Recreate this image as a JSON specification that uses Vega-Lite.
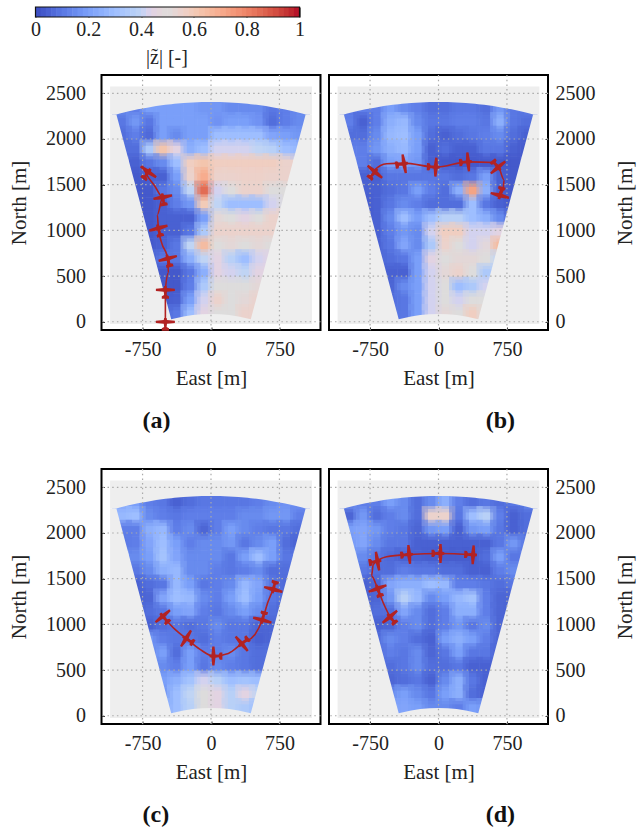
{"$schema":"https://vega.github.io/schema/vega-lite/v6.json","padding":{"left":7.5,"top":6,"right":0,"bottom":0},"background":"white",
"config":{"font":"Liberation Serif","view":{"stroke":"#000","strokeWidth":2},"axisX":{"labelPadding":12,"titlePadding":8},"axisY":{"labelPadding":19,"titlePadding":16},"axis":{"grid":false,"labelFont":"Liberation Serif","titleFont":"Liberation Serif","labelFontSize":20,"titleFontSize":21,"labelColor":"#222","titleColor":"#222","titleFontWeight":"normal","domain":false,"tickColor":"#333","tickSize":-3},"title":{"font":"Liberation Serif","fontSize":24,"fontWeight":"bold","color":"#111"}},
"datasets":{
"grid":[{"e":-750},{"e":0},{"e":750}],
"gridn":[{"n":0},{"n":500},{"n":1000},{"n":1500},{"n":2000},{"n":2500}],
"mask":[{"e":-1106,"u":2268,"l":2268},{"e":-1037,"u":2268,"l":2268},{"e":-1000,"u":2278,"l":2132},{"e":-900,"u":2303,"l":1759},{"e":-800,"u":2324,"l":1386},{"e":-700,"u":2343,"l":1012},{"e":-600,"u":2360,"l":639},{"e":-500,"u":2374,"l":266},{"e":-436,"u":2381,"l":27},{"e":-400,"u":2385,"l":37},{"e":-300,"u":2394,"l":58},{"e":-200,"u":2400,"l":73},{"e":-100,"u":2404,"l":82},{"e":0,"u":2405,"l":85},{"e":100,"u":2404,"l":82},{"e":200,"u":2400,"l":73},{"e":300,"u":2394,"l":58},{"e":400,"u":2385,"l":37},{"e":436,"u":2381,"l":27},{"e":500,"u":2374,"l":266},{"e":600,"u":2360,"l":639},{"e":700,"u":2343,"l":1012},{"e":800,"u":2324,"l":1386},{"e":900,"u":2303,"l":1759},{"e":1000,"u":2278,"l":2132},{"e":1037,"u":2268,"l":2268},{"e":1106,"u":2268,"l":2268}],
"pathA":[{"i":0,"e":-500,"n":0},{"i":1,"e":-500,"n":204},{"i":2,"e":-500,"n":350},{"i":3,"e":-467,"n":532},{"i":4,"e":-474,"n":693},{"i":5,"e":-540,"n":861},{"i":6,"e":-577,"n":1025},{"i":7,"e":-588,"n":1171},{"i":8,"e":-529,"n":1364},{"i":9,"e":-613,"n":1481},{"i":10,"e":-704,"n":1608},{"i":11,"e":-752,"n":1707}],
"planeA":[{"e":-500,"n":0,"h":0},{"e":-500,"n":350,"h":0},{"e":-474,"n":693,"h":-15},{"e":-577,"n":1025,"h":-15},{"e":-529,"n":1364,"h":-10},{"e":-686,"n":1641,"h":35}],
"pathB":[{"i":0,"e":-697,"n":1641},{"i":1,"e":-697,"n":1663},{"i":2,"e":-569,"n":1729},{"i":3,"e":-376,"n":1736},{"i":4,"e":-29,"n":1692},{"i":5,"e":325,"n":1750},{"i":6,"e":599,"n":1743},{"i":7,"e":661,"n":1689},{"i":8,"e":719,"n":1554},{"i":9,"e":708,"n":1444},{"i":10,"e":672,"n":1382}],
"planeB":[{"e":-697,"n":1641,"h":40},{"e":-376,"n":1729,"h":80},{"e":-29,"n":1692,"h":93},{"e":325,"n":1750,"h":85},{"e":653,"n":1689,"h":140},{"e":672,"n":1382,"h":195}],
"pathC":[{"i":0,"e":682,"n":1382},{"i":1,"e":628,"n":1255},{"i":2,"e":562,"n":1047},{"i":3,"e":482,"n":890},{"i":4,"e":336,"n":788},{"i":5,"e":190,"n":682},{"i":6,"e":26,"n":653},{"i":7,"e":-120,"n":726},{"i":8,"e":-274,"n":846},{"i":9,"e":-394,"n":945},{"i":10,"e":-529,"n":1090}],
"planeC":[{"e":682,"n":1382,"h":195},{"e":562,"n":1047,"h":195},{"e":336,"n":788,"h":230},{"e":26,"n":653,"h":-90},{"e":-274,"n":846,"h":-58},{"e":-529,"n":1090,"h":-40}],
"pathD":[{"i":0,"e":-533,"n":1083},{"i":1,"e":-606,"n":1236},{"i":2,"e":-668,"n":1393},{"i":3,"e":-734,"n":1528},{"i":4,"e":-715,"n":1656},{"i":5,"e":-569,"n":1739},{"i":6,"e":-321,"n":1765},{"i":7,"e":22,"n":1776},{"i":8,"e":380,"n":1761}],
"planeD":[{"e":-533,"n":1083,"h":-40},{"e":-668,"n":1393,"h":-20},{"e":-668,"n":1692,"h":80},{"e":-321,"n":1765,"h":85},{"e":22,"n":1776,"h":90},{"e":380,"n":1761,"h":93}],
"bar":[{"z":0.01},{"z":0.03},{"z":0.05},{"z":0.07},{"z":0.09},{"z":0.11},{"z":0.13},{"z":0.15},{"z":0.17},{"z":0.19},{"z":0.21},{"z":0.23},{"z":0.25},{"z":0.27},{"z":0.29},{"z":0.31},{"z":0.33},{"z":0.35},{"z":0.37},{"z":0.39},{"z":0.41},{"z":0.43},{"z":0.45},{"z":0.47},{"z":0.49},{"z":0.51},{"z":0.53},{"z":0.55},{"z":0.57},{"z":0.59},{"z":0.61},{"z":0.63},{"z":0.65},{"z":0.67},{"z":0.69},{"z":0.71},{"z":0.73},{"z":0.75},{"z":0.77},{"z":0.79},{"z":0.81},{"z":0.83},{"z":0.85},{"z":0.87},{"z":0.89},{"z":0.91},{"z":0.93},{"z":0.95},{"z":0.97},{"z":0.99}],
"a":[
{"e":-975,"n":2335,"z":0.15},{"e":-825,"n":2335,"z":0.12},{"e":-675,"n":2335,"z":0.2},{"e":-525,"n":2335,"z":0.2},{"e":-375,"n":2335,"z":0.2},{"e":-225,"n":2335,"z":0.2},{"e":-75,"n":2335,"z":0.18},{"e":75,"n":2335,"z":0.18},{"e":225,"n":2335,"z":0.15},{"e":375,"n":2335,"z":0.15},{"e":525,"n":2335,"z":0.15},{"e":675,"n":2335,"z":0.1},{"e":825,"n":2335,"z":0.12},{"e":975,"n":2335,"z":0.15},
{"e":-975,"n":2185,"z":0.1},{"e":-825,"n":2185,"z":0.18},{"e":-675,"n":2185,"z":0.1},{"e":-525,"n":2185,"z":0.2},{"e":-375,"n":2185,"z":0.2},{"e":-225,"n":2185,"z":0.2},{"e":-75,"n":2185,"z":0.2},{"e":75,"n":2185,"z":0.17},{"e":225,"n":2185,"z":0.2},{"e":375,"n":2185,"z":0.2},{"e":525,"n":2185,"z":0.17},{"e":675,"n":2185,"z":0.08},{"e":825,"n":2185,"z":0.12},{"e":975,"n":2185,"z":0.15},
{"e":-975,"n":2035,"z":0.08},{"e":-825,"n":2035,"z":0.12},{"e":-675,"n":2035,"z":0.07},{"e":-525,"n":2035,"z":0.2},{"e":-375,"n":2035,"z":0.15},{"e":-225,"n":2035,"z":0.2},{"e":-75,"n":2035,"z":0.2},{"e":75,"n":2035,"z":0.3},{"e":225,"n":2035,"z":0.3},{"e":375,"n":2035,"z":0.3},{"e":525,"n":2035,"z":0.3},{"e":675,"n":2035,"z":0.22},{"e":825,"n":2035,"z":0.2},{"e":975,"n":2035,"z":0.18},
{"e":-975,"n":1885,"z":0.08},{"e":-825,"n":1885,"z":0.08},{"e":-675,"n":1885,"z":0.35},{"e":-525,"n":1885,"z":0.62},{"e":-375,"n":1885,"z":0.45},{"e":-225,"n":1885,"z":0.25},{"e":-75,"n":1885,"z":0.3},{"e":75,"n":1885,"z":0.42},{"e":225,"n":1885,"z":0.42},{"e":375,"n":1885,"z":0.42},{"e":525,"n":1885,"z":0.4},{"e":675,"n":1885,"z":0.38},{"e":825,"n":1885,"z":0.3},{"e":975,"n":1885,"z":0.28},
{"e":-825,"n":1735,"z":0.05},{"e":-675,"n":1735,"z":0.1},{"e":-525,"n":1735,"z":0.15},{"e":-375,"n":1735,"z":0.3},{"e":-225,"n":1735,"z":0.58},{"e":-75,"n":1735,"z":0.62},{"e":75,"n":1735,"z":0.58},{"e":225,"n":1735,"z":0.58},{"e":375,"n":1735,"z":0.58},{"e":525,"n":1735,"z":0.58},{"e":675,"n":1735,"z":0.58},{"e":825,"n":1735,"z":0.55},
{"e":-825,"n":1585,"z":0.03},{"e":-675,"n":1585,"z":0.05},{"e":-525,"n":1585,"z":0.05},{"e":-375,"n":1585,"z":0.2},{"e":-225,"n":1585,"z":0.55},{"e":-75,"n":1585,"z":0.7},{"e":75,"n":1585,"z":0.55},{"e":225,"n":1585,"z":0.55},{"e":375,"n":1585,"z":0.56},{"e":525,"n":1585,"z":0.56},{"e":675,"n":1585,"z":0.55},{"e":825,"n":1585,"z":0.55},
{"e":-825,"n":1435,"z":0.03},{"e":-675,"n":1435,"z":0.03},{"e":-525,"n":1435,"z":0.1},{"e":-375,"n":1435,"z":0.15},{"e":-225,"n":1435,"z":0.4},{"e":-75,"n":1435,"z":0.85},{"e":75,"n":1435,"z":0.42},{"e":225,"n":1435,"z":0.5},{"e":375,"n":1435,"z":0.55},{"e":525,"n":1435,"z":0.55},{"e":675,"n":1435,"z":0.5},{"e":825,"n":1435,"z":0.5},
{"e":-825,"n":1285,"z":0.03},{"e":-675,"n":1285,"z":0.03},{"e":-525,"n":1285,"z":0.05},{"e":-375,"n":1285,"z":0.12},{"e":-225,"n":1285,"z":0.18},{"e":-75,"n":1285,"z":0.6},{"e":75,"n":1285,"z":0.4},{"e":225,"n":1285,"z":0.3},{"e":375,"n":1285,"z":0.3},{"e":525,"n":1285,"z":0.3},{"e":675,"n":1285,"z":0.42},{"e":825,"n":1285,"z":0.5},
{"e":-825,"n":1135,"z":0.03},{"e":-675,"n":1135,"z":0.03},{"e":-525,"n":1135,"z":0.05},{"e":-375,"n":1135,"z":0.05},{"e":-225,"n":1135,"z":0.05},{"e":-75,"n":1135,"z":0.2},{"e":75,"n":1135,"z":0.52},{"e":225,"n":1135,"z":0.5},{"e":375,"n":1135,"z":0.45},{"e":525,"n":1135,"z":0.5},{"e":675,"n":1135,"z":0.55},{"e":825,"n":1135,"z":0.55},
{"e":-675,"n":985,"z":0.03},{"e":-525,"n":985,"z":0.05},{"e":-375,"n":985,"z":0.05},{"e":-225,"n":985,"z":0.1},{"e":-75,"n":985,"z":0.35},{"e":75,"n":985,"z":0.55},{"e":225,"n":985,"z":0.55},{"e":375,"n":985,"z":0.55},{"e":525,"n":985,"z":0.55},{"e":675,"n":985,"z":0.55},
{"e":-675,"n":835,"z":0.03},{"e":-525,"n":835,"z":0.05},{"e":-375,"n":835,"z":0.1},{"e":-225,"n":835,"z":0.4},{"e":-75,"n":835,"z":0.65},{"e":75,"n":835,"z":0.5},{"e":225,"n":835,"z":0.52},{"e":375,"n":835,"z":0.5},{"e":525,"n":835,"z":0.52},{"e":675,"n":835,"z":0.5},
{"e":-675,"n":685,"z":0.03},{"e":-525,"n":685,"z":0.1},{"e":-375,"n":685,"z":0.1},{"e":-225,"n":685,"z":0.25},{"e":-75,"n":685,"z":0.4},{"e":75,"n":685,"z":0.45},{"e":225,"n":685,"z":0.38},{"e":375,"n":685,"z":0.3},{"e":525,"n":685,"z":0.42},{"e":675,"n":685,"z":0.45},
{"e":-525,"n":535,"z":0.03},{"e":-375,"n":535,"z":0.03},{"e":-225,"n":535,"z":0.1},{"e":-75,"n":535,"z":0.25},{"e":75,"n":535,"z":0.45},{"e":225,"n":535,"z":0.42},{"e":375,"n":535,"z":0.4},{"e":525,"n":535,"z":0.45},
{"e":-525,"n":385,"z":0.03},{"e":-375,"n":385,"z":0.03},{"e":-225,"n":385,"z":0.12},{"e":-75,"n":385,"z":0.35},{"e":75,"n":385,"z":0.5},{"e":225,"n":385,"z":0.5},{"e":375,"n":385,"z":0.5},{"e":525,"n":385,"z":0.52},
{"e":-525,"n":235,"z":0.03},{"e":-375,"n":235,"z":0.05},{"e":-225,"n":235,"z":0.2},{"e":-75,"n":235,"z":0.42},{"e":75,"n":235,"z":0.55},{"e":225,"n":235,"z":0.5},{"e":375,"n":235,"z":0.52},{"e":525,"n":235,"z":0.55},
{"e":-525,"n":85,"z":0.05},{"e":-375,"n":85,"z":0.1},{"e":-225,"n":85,"z":0.3},{"e":-75,"n":85,"z":0.45},{"e":75,"n":85,"z":0.5},{"e":225,"n":85,"z":0.5},{"e":375,"n":85,"z":0.55},{"e":525,"n":85,"z":0.55}],
"b":[
{"e":-975,"n":2335,"z":0.1},{"e":-825,"n":2335,"z":0.12},{"e":-675,"n":2335,"z":0.12},{"e":-525,"n":2335,"z":0.2},{"e":-375,"n":2335,"z":0.15},{"e":-225,"n":2335,"z":0.12},{"e":-75,"n":2335,"z":0.08},{"e":75,"n":2335,"z":0.08},{"e":225,"n":2335,"z":0.1},{"e":375,"n":2335,"z":0.1},{"e":525,"n":2335,"z":0.08},{"e":675,"n":2335,"z":0.18},{"e":825,"n":2335,"z":0.1},{"e":975,"n":2335,"z":0.12},
{"e":-975,"n":2185,"z":0.12},{"e":-825,"n":2185,"z":0.05},{"e":-675,"n":2185,"z":0.12},{"e":-525,"n":2185,"z":0.25},{"e":-375,"n":2185,"z":0.28},{"e":-225,"n":2185,"z":0.15},{"e":-75,"n":2185,"z":0.1},{"e":75,"n":2185,"z":0.1},{"e":225,"n":2185,"z":0.12},{"e":375,"n":2185,"z":0.12},{"e":525,"n":2185,"z":0.1},{"e":675,"n":2185,"z":0.25},{"e":825,"n":2185,"z":0.1},{"e":975,"n":2185,"z":0.08},
{"e":-975,"n":2035,"z":0.08},{"e":-825,"n":2035,"z":0.08},{"e":-675,"n":2035,"z":0.15},{"e":-525,"n":2035,"z":0.28},{"e":-375,"n":2035,"z":0.3},{"e":-225,"n":2035,"z":0.2},{"e":-75,"n":2035,"z":0.08},{"e":75,"n":2035,"z":0.05},{"e":225,"n":2035,"z":0.08},{"e":375,"n":2035,"z":0.1},{"e":525,"n":2035,"z":0.12},{"e":675,"n":2035,"z":0.15},{"e":825,"n":2035,"z":0.08},{"e":975,"n":2035,"z":0.05},
{"e":-975,"n":1885,"z":0.12},{"e":-825,"n":1885,"z":0.12},{"e":-675,"n":1885,"z":0.18},{"e":-525,"n":1885,"z":0.25},{"e":-375,"n":1885,"z":0.28},{"e":-225,"n":1885,"z":0.2},{"e":-75,"n":1885,"z":0.05},{"e":75,"n":1885,"z":0.08},{"e":225,"n":1885,"z":0.05},{"e":375,"n":1885,"z":0.05},{"e":525,"n":1885,"z":0.1},{"e":675,"n":1885,"z":0.1},{"e":825,"n":1885,"z":0.05},{"e":975,"n":1885,"z":0.03},
{"e":-825,"n":1735,"z":0.12},{"e":-675,"n":1735,"z":0.08},{"e":-525,"n":1735,"z":0.2},{"e":-375,"n":1735,"z":0.22},{"e":-225,"n":1735,"z":0.18},{"e":-75,"n":1735,"z":0.05},{"e":75,"n":1735,"z":0.03},{"e":225,"n":1735,"z":0.03},{"e":375,"n":1735,"z":0.03},{"e":525,"n":1735,"z":0.03},{"e":675,"n":1735,"z":0.03},{"e":825,"n":1735,"z":0.03},
{"e":-825,"n":1585,"z":0.05},{"e":-675,"n":1585,"z":0.05},{"e":-525,"n":1585,"z":0.1},{"e":-375,"n":1585,"z":0.1},{"e":-225,"n":1585,"z":0.1},{"e":-75,"n":1585,"z":0.1},{"e":75,"n":1585,"z":0.1},{"e":225,"n":1585,"z":0.08},{"e":375,"n":1585,"z":0.1},{"e":525,"n":1585,"z":0.2},{"e":675,"n":1585,"z":0.05},{"e":825,"n":1585,"z":0.03},
{"e":-825,"n":1435,"z":0.05},{"e":-675,"n":1435,"z":0.05},{"e":-525,"n":1435,"z":0.08},{"e":-375,"n":1435,"z":0.1},{"e":-225,"n":1435,"z":0.2},{"e":-75,"n":1435,"z":0.12},{"e":75,"n":1435,"z":0.08},{"e":225,"n":1435,"z":0.25},{"e":375,"n":1435,"z":0.72},{"e":525,"n":1435,"z":0.25},{"e":675,"n":1435,"z":0.05},{"e":825,"n":1435,"z":0.03},
{"e":-825,"n":1285,"z":0.03},{"e":-675,"n":1285,"z":0.05},{"e":-525,"n":1285,"z":0.1},{"e":-375,"n":1285,"z":0.15},{"e":-225,"n":1285,"z":0.12},{"e":-75,"n":1285,"z":0.08},{"e":75,"n":1285,"z":0.08},{"e":225,"n":1285,"z":0.08},{"e":375,"n":1285,"z":0.3},{"e":525,"n":1285,"z":0.1},{"e":675,"n":1285,"z":0.05},{"e":825,"n":1285,"z":0.03},
{"e":-825,"n":1135,"z":0.03},{"e":-675,"n":1135,"z":0.05},{"e":-525,"n":1135,"z":0.15},{"e":-375,"n":1135,"z":0.3},{"e":-225,"n":1135,"z":0.2},{"e":-75,"n":1135,"z":0.3},{"e":75,"n":1135,"z":0.38},{"e":225,"n":1135,"z":0.38},{"e":375,"n":1135,"z":0.3},{"e":525,"n":1135,"z":0.25},{"e":675,"n":1135,"z":0.15},{"e":825,"n":1135,"z":0.05},
{"e":-675,"n":985,"z":0.05},{"e":-525,"n":985,"z":0.12},{"e":-375,"n":985,"z":0.18},{"e":-225,"n":985,"z":0.15},{"e":-75,"n":985,"z":0.42},{"e":75,"n":985,"z":0.58},{"e":225,"n":985,"z":0.58},{"e":375,"n":985,"z":0.42},{"e":525,"n":985,"z":0.42},{"e":675,"n":985,"z":0.45},
{"e":-675,"n":835,"z":0.05},{"e":-525,"n":835,"z":0.1},{"e":-375,"n":835,"z":0.22},{"e":-225,"n":835,"z":0.15},{"e":-75,"n":835,"z":0.35},{"e":75,"n":835,"z":0.55},{"e":225,"n":835,"z":0.5},{"e":375,"n":835,"z":0.42},{"e":525,"n":835,"z":0.48},{"e":675,"n":835,"z":0.65},
{"e":-675,"n":685,"z":0.05},{"e":-525,"n":685,"z":0.08},{"e":-375,"n":685,"z":0.1},{"e":-225,"n":685,"z":0.2},{"e":-75,"n":685,"z":0.45},{"e":75,"n":685,"z":0.5},{"e":225,"n":685,"z":0.52},{"e":375,"n":685,"z":0.52},{"e":525,"n":685,"z":0.5},{"e":675,"n":685,"z":0.4},
{"e":-525,"n":535,"z":0.05},{"e":-375,"n":535,"z":0.05},{"e":-225,"n":535,"z":0.2},{"e":-75,"n":535,"z":0.42},{"e":75,"n":535,"z":0.52},{"e":225,"n":535,"z":0.55},{"e":375,"n":535,"z":0.5},{"e":525,"n":535,"z":0.35},
{"e":-525,"n":385,"z":0.06},{"e":-375,"n":385,"z":0.15},{"e":-225,"n":385,"z":0.2},{"e":-75,"n":385,"z":0.42},{"e":75,"n":385,"z":0.5},{"e":225,"n":385,"z":0.3},{"e":375,"n":385,"z":0.35},{"e":525,"n":385,"z":0.42},
{"e":-525,"n":235,"z":0.08},{"e":-375,"n":235,"z":0.1},{"e":-225,"n":235,"z":0.2},{"e":-75,"n":235,"z":0.42},{"e":75,"n":235,"z":0.5},{"e":225,"n":235,"z":0.42},{"e":375,"n":235,"z":0.5},{"e":525,"n":235,"z":0.5},
{"e":-525,"n":85,"z":0.1},{"e":-375,"n":85,"z":0.1},{"e":-225,"n":85,"z":0.2},{"e":-75,"n":85,"z":0.42},{"e":75,"n":85,"z":0.52},{"e":225,"n":85,"z":0.5},{"e":375,"n":85,"z":0.58},{"e":525,"n":85,"z":0.5}],
"c":[
{"e":-975,"n":2335,"z":0.22},{"e":-825,"n":2335,"z":0.2},{"e":-675,"n":2335,"z":0.12},{"e":-525,"n":2335,"z":0.1},{"e":-375,"n":2335,"z":0.05},{"e":-225,"n":2335,"z":0.08},{"e":-75,"n":2335,"z":0.1},{"e":75,"n":2335,"z":0.1},{"e":225,"n":2335,"z":0.1},{"e":375,"n":2335,"z":0.1},{"e":525,"n":2335,"z":0.12},{"e":675,"n":2335,"z":0.15},{"e":825,"n":2335,"z":0.17},{"e":975,"n":2335,"z":0.17},
{"e":-975,"n":2185,"z":0.28},{"e":-825,"n":2185,"z":0.3},{"e":-675,"n":2185,"z":0.15},{"e":-525,"n":2185,"z":0.12},{"e":-375,"n":2185,"z":0.1},{"e":-225,"n":2185,"z":0.12},{"e":-75,"n":2185,"z":0.12},{"e":75,"n":2185,"z":0.12},{"e":225,"n":2185,"z":0.12},{"e":375,"n":2185,"z":0.15},{"e":525,"n":2185,"z":0.15},{"e":675,"n":2185,"z":0.18},{"e":825,"n":2185,"z":0.18},{"e":975,"n":2185,"z":0.12},
{"e":-975,"n":2035,"z":0.12},{"e":-825,"n":2035,"z":0.12},{"e":-675,"n":2035,"z":0.25},{"e":-525,"n":2035,"z":0.28},{"e":-375,"n":2035,"z":0.12},{"e":-225,"n":2035,"z":0.15},{"e":-75,"n":2035,"z":0.06},{"e":75,"n":2035,"z":0.12},{"e":225,"n":2035,"z":0.2},{"e":375,"n":2035,"z":0.15},{"e":525,"n":2035,"z":0.12},{"e":675,"n":2035,"z":0.1},{"e":825,"n":2035,"z":0.1},{"e":975,"n":2035,"z":0.08},
{"e":-975,"n":1885,"z":0.1},{"e":-825,"n":1885,"z":0.12},{"e":-675,"n":1885,"z":0.22},{"e":-525,"n":1885,"z":0.3},{"e":-375,"n":1885,"z":0.2},{"e":-225,"n":1885,"z":0.12},{"e":-75,"n":1885,"z":0.15},{"e":75,"n":1885,"z":0.15},{"e":225,"n":1885,"z":0.18},{"e":375,"n":1885,"z":0.1},{"e":525,"n":1885,"z":0.15},{"e":675,"n":1885,"z":0.2},{"e":825,"n":1885,"z":0.08},{"e":975,"n":1885,"z":0.05},
{"e":-825,"n":1735,"z":0.15},{"e":-675,"n":1735,"z":0.2},{"e":-525,"n":1735,"z":0.32},{"e":-375,"n":1735,"z":0.22},{"e":-225,"n":1735,"z":0.15},{"e":-75,"n":1735,"z":0.15},{"e":75,"n":1735,"z":0.15},{"e":225,"n":1735,"z":0.1},{"e":375,"n":1735,"z":0.2},{"e":525,"n":1735,"z":0.3},{"e":675,"n":1735,"z":0.2},{"e":825,"n":1735,"z":0.1},
{"e":-825,"n":1585,"z":0.1},{"e":-675,"n":1585,"z":0.15},{"e":-525,"n":1585,"z":0.25},{"e":-375,"n":1585,"z":0.28},{"e":-225,"n":1585,"z":0.15},{"e":-75,"n":1585,"z":0.15},{"e":75,"n":1585,"z":0.12},{"e":225,"n":1585,"z":0.1},{"e":375,"n":1585,"z":0.12},{"e":525,"n":1585,"z":0.15},{"e":675,"n":1585,"z":0.08},{"e":825,"n":1585,"z":0.08},
{"e":-825,"n":1435,"z":0.05},{"e":-675,"n":1435,"z":0.08},{"e":-525,"n":1435,"z":0.1},{"e":-375,"n":1435,"z":0.28},{"e":-225,"n":1435,"z":0.2},{"e":-75,"n":1435,"z":0.1},{"e":75,"n":1435,"z":0.12},{"e":225,"n":1435,"z":0.15},{"e":375,"n":1435,"z":0.28},{"e":525,"n":1435,"z":0.22},{"e":675,"n":1435,"z":0.1},{"e":825,"n":1435,"z":0.07},
{"e":-825,"n":1285,"z":0.05},{"e":-675,"n":1285,"z":0.06},{"e":-525,"n":1285,"z":0.22},{"e":-375,"n":1285,"z":0.3},{"e":-225,"n":1285,"z":0.28},{"e":-75,"n":1285,"z":0.15},{"e":75,"n":1285,"z":0.12},{"e":225,"n":1285,"z":0.2},{"e":375,"n":1285,"z":0.3},{"e":525,"n":1285,"z":0.2},{"e":675,"n":1285,"z":0.1},{"e":825,"n":1285,"z":0.08},
{"e":-825,"n":1135,"z":0.05},{"e":-675,"n":1135,"z":0.08},{"e":-525,"n":1135,"z":0.1},{"e":-375,"n":1135,"z":0.2},{"e":-225,"n":1135,"z":0.22},{"e":-75,"n":1135,"z":0.12},{"e":75,"n":1135,"z":0.1},{"e":225,"n":1135,"z":0.15},{"e":375,"n":1135,"z":0.2},{"e":525,"n":1135,"z":0.15},{"e":675,"n":1135,"z":0.08},{"e":825,"n":1135,"z":0.06},
{"e":-675,"n":985,"z":0.05},{"e":-525,"n":985,"z":0.08},{"e":-375,"n":985,"z":0.1},{"e":-225,"n":985,"z":0.08},{"e":-75,"n":985,"z":0.1},{"e":75,"n":985,"z":0.15},{"e":225,"n":985,"z":0.1},{"e":375,"n":985,"z":0.1},{"e":525,"n":985,"z":0.06},{"e":675,"n":985,"z":0.06},
{"e":-675,"n":835,"z":0.18},{"e":-525,"n":835,"z":0.12},{"e":-375,"n":835,"z":0.1},{"e":-225,"n":835,"z":0.1},{"e":-75,"n":835,"z":0.08},{"e":75,"n":835,"z":0.12},{"e":225,"n":835,"z":0.1},{"e":375,"n":835,"z":0.1},{"e":525,"n":835,"z":0.05},{"e":675,"n":835,"z":0.06},
{"e":-675,"n":685,"z":0.12},{"e":-525,"n":685,"z":0.2},{"e":-375,"n":685,"z":0.08},{"e":-225,"n":685,"z":0.2},{"e":-75,"n":685,"z":0.12},{"e":75,"n":685,"z":0.12},{"e":225,"n":685,"z":0.15},{"e":375,"n":685,"z":0.1},{"e":525,"n":685,"z":0.08},{"e":675,"n":685,"z":0.08},
{"e":-525,"n":535,"z":0.15},{"e":-375,"n":535,"z":0.12},{"e":-225,"n":535,"z":0.2},{"e":-75,"n":535,"z":0.1},{"e":75,"n":535,"z":0.15},{"e":225,"n":535,"z":0.12},{"e":375,"n":535,"z":0.1},{"e":525,"n":535,"z":0.08},
{"e":-525,"n":385,"z":0.2},{"e":-375,"n":385,"z":0.25},{"e":-225,"n":385,"z":0.32},{"e":-75,"n":385,"z":0.42},{"e":75,"n":385,"z":0.38},{"e":225,"n":385,"z":0.3},{"e":375,"n":385,"z":0.32},{"e":525,"n":385,"z":0.3},
{"e":-525,"n":235,"z":0.18},{"e":-375,"n":235,"z":0.3},{"e":-225,"n":235,"z":0.4},{"e":-75,"n":235,"z":0.5},{"e":75,"n":235,"z":0.45},{"e":225,"n":235,"z":0.38},{"e":375,"n":235,"z":0.45},{"e":525,"n":235,"z":0.4},
{"e":-525,"n":85,"z":0.2},{"e":-375,"n":85,"z":0.3},{"e":-225,"n":85,"z":0.38},{"e":-75,"n":85,"z":0.5},{"e":75,"n":85,"z":0.45},{"e":225,"n":85,"z":0.38},{"e":375,"n":85,"z":0.35},{"e":525,"n":85,"z":0.3}],
"d":[
{"e":-975,"n":2335,"z":0.18},{"e":-825,"n":2335,"z":0.12},{"e":-675,"n":2335,"z":0.12},{"e":-525,"n":2335,"z":0.2},{"e":-375,"n":2335,"z":0.15},{"e":-225,"n":2335,"z":0.08},{"e":-75,"n":2335,"z":0.15},{"e":75,"n":2335,"z":0.25},{"e":225,"n":2335,"z":0.12},{"e":375,"n":2335,"z":0.08},{"e":525,"n":2335,"z":0.1},{"e":675,"n":2335,"z":0.08},{"e":825,"n":2335,"z":0.1},{"e":975,"n":2335,"z":0.15},
{"e":-975,"n":2185,"z":0.06},{"e":-825,"n":2185,"z":0.18},{"e":-675,"n":2185,"z":0.08},{"e":-525,"n":2185,"z":0.12},{"e":-375,"n":2185,"z":0.15},{"e":-225,"n":2185,"z":0.08},{"e":-75,"n":2185,"z":0.55},{"e":75,"n":2185,"z":0.55},{"e":225,"n":2185,"z":0.1},{"e":375,"n":2185,"z":0.3},{"e":525,"n":2185,"z":0.38},{"e":675,"n":2185,"z":0.12},{"e":825,"n":2185,"z":0.05},{"e":975,"n":2185,"z":0.08},
{"e":-975,"n":2035,"z":0.2},{"e":-825,"n":2035,"z":0.22},{"e":-675,"n":2035,"z":0.18},{"e":-525,"n":2035,"z":0.12},{"e":-375,"n":2035,"z":0.1},{"e":-225,"n":2035,"z":0.06},{"e":-75,"n":2035,"z":0.18},{"e":75,"n":2035,"z":0.2},{"e":225,"n":2035,"z":0.05},{"e":375,"n":2035,"z":0.18},{"e":525,"n":2035,"z":0.2},{"e":675,"n":2035,"z":0.1},{"e":825,"n":2035,"z":0.05},{"e":975,"n":2035,"z":0.08},
{"e":-975,"n":1885,"z":0.18},{"e":-825,"n":1885,"z":0.22},{"e":-675,"n":1885,"z":0.15},{"e":-525,"n":1885,"z":0.1},{"e":-375,"n":1885,"z":0.1},{"e":-225,"n":1885,"z":0.05},{"e":-75,"n":1885,"z":0.05},{"e":75,"n":1885,"z":0.05},{"e":225,"n":1885,"z":0.05},{"e":375,"n":1885,"z":0.05},{"e":525,"n":1885,"z":0.05},{"e":675,"n":1885,"z":0.1},{"e":825,"n":1885,"z":0.18},{"e":975,"n":1885,"z":0.1},
{"e":-825,"n":1735,"z":0.15},{"e":-675,"n":1735,"z":0.1},{"e":-525,"n":1735,"z":0.07},{"e":-375,"n":1735,"z":0.05},{"e":-225,"n":1735,"z":0.05},{"e":-75,"n":1735,"z":0.04},{"e":75,"n":1735,"z":0.04},{"e":225,"n":1735,"z":0.04},{"e":375,"n":1735,"z":0.04},{"e":525,"n":1735,"z":0.08},{"e":675,"n":1735,"z":0.2},{"e":825,"n":1735,"z":0.1},
{"e":-825,"n":1585,"z":0.1},{"e":-675,"n":1585,"z":0.08},{"e":-525,"n":1585,"z":0.08},{"e":-375,"n":1585,"z":0.12},{"e":-225,"n":1585,"z":0.1},{"e":-75,"n":1585,"z":0.1},{"e":75,"n":1585,"z":0.08},{"e":225,"n":1585,"z":0.08},{"e":375,"n":1585,"z":0.05},{"e":525,"n":1585,"z":0.05},{"e":675,"n":1585,"z":0.12},{"e":825,"n":1585,"z":0.15},
{"e":-825,"n":1435,"z":0.05},{"e":-675,"n":1435,"z":0.06},{"e":-525,"n":1435,"z":0.22},{"e":-375,"n":1435,"z":0.25},{"e":-225,"n":1435,"z":0.25},{"e":-75,"n":1435,"z":0.3},{"e":75,"n":1435,"z":0.28},{"e":225,"n":1435,"z":0.12},{"e":375,"n":1435,"z":0.12},{"e":525,"n":1435,"z":0.1},{"e":675,"n":1435,"z":0.08},{"e":825,"n":1435,"z":0.1},
{"e":-825,"n":1285,"z":0.05},{"e":-675,"n":1285,"z":0.06},{"e":-525,"n":1285,"z":0.18},{"e":-375,"n":1285,"z":0.38},{"e":-225,"n":1285,"z":0.28},{"e":-75,"n":1285,"z":0.15},{"e":75,"n":1285,"z":0.2},{"e":225,"n":1285,"z":0.28},{"e":375,"n":1285,"z":0.32},{"e":525,"n":1285,"z":0.12},{"e":675,"n":1285,"z":0.06},{"e":825,"n":1285,"z":0.06},
{"e":-825,"n":1135,"z":0.05},{"e":-675,"n":1135,"z":0.08},{"e":-525,"n":1135,"z":0.08},{"e":-375,"n":1135,"z":0.22},{"e":-225,"n":1135,"z":0.15},{"e":-75,"n":1135,"z":0.08},{"e":75,"n":1135,"z":0.12},{"e":225,"n":1135,"z":0.25},{"e":375,"n":1135,"z":0.25},{"e":525,"n":1135,"z":0.12},{"e":675,"n":1135,"z":0.06},{"e":825,"n":1135,"z":0.05},
{"e":-675,"n":985,"z":0.05},{"e":-525,"n":985,"z":0.06},{"e":-375,"n":985,"z":0.12},{"e":-225,"n":985,"z":0.15},{"e":-75,"n":985,"z":0.08},{"e":75,"n":985,"z":0.12},{"e":225,"n":985,"z":0.18},{"e":375,"n":985,"z":0.1},{"e":525,"n":985,"z":0.15},{"e":675,"n":985,"z":0.06},
{"e":-675,"n":835,"z":0.08},{"e":-525,"n":835,"z":0.15},{"e":-375,"n":835,"z":0.12},{"e":-225,"n":835,"z":0.08},{"e":-75,"n":835,"z":0.05},{"e":75,"n":835,"z":0.2},{"e":225,"n":835,"z":0.25},{"e":375,"n":835,"z":0.2},{"e":525,"n":835,"z":0.12},{"e":675,"n":835,"z":0.06},
{"e":-675,"n":685,"z":0.06},{"e":-525,"n":685,"z":0.12},{"e":-375,"n":685,"z":0.1},{"e":-225,"n":685,"z":0.15},{"e":-75,"n":685,"z":0.06},{"e":75,"n":685,"z":0.1},{"e":225,"n":685,"z":0.2},{"e":375,"n":685,"z":0.1},{"e":525,"n":685,"z":0.1},{"e":675,"n":685,"z":0.05},
{"e":-525,"n":535,"z":0.08},{"e":-375,"n":535,"z":0.1},{"e":-225,"n":535,"z":0.15},{"e":-75,"n":535,"z":0.08},{"e":75,"n":535,"z":0.08},{"e":225,"n":535,"z":0.1},{"e":375,"n":535,"z":0.05},{"e":525,"n":535,"z":0.05},
{"e":-525,"n":385,"z":0.06},{"e":-375,"n":385,"z":0.08},{"e":-225,"n":385,"z":0.1},{"e":-75,"n":385,"z":0.05},{"e":75,"n":385,"z":0.15},{"e":225,"n":385,"z":0.25},{"e":375,"n":385,"z":0.1},{"e":525,"n":385,"z":0.05},
{"e":-525,"n":235,"z":0.15},{"e":-375,"n":235,"z":0.2},{"e":-225,"n":235,"z":0.15},{"e":-75,"n":235,"z":0.1},{"e":75,"n":235,"z":0.2},{"e":225,"n":235,"z":0.25},{"e":375,"n":235,"z":0.08},{"e":525,"n":235,"z":0.05},
{"e":-525,"n":85,"z":0.2},{"e":-375,"n":85,"z":0.22},{"e":-225,"n":85,"z":0.2},{"e":-75,"n":85,"z":0.15},{"e":75,"n":85,"z":0.15},{"e":225,"n":85,"z":0.12},{"e":375,"n":85,"z":0.2},{"e":525,"n":85,"z":0.18}]
},
"vconcat":[
{"width":219,"height":10,"view":{"stroke":null},"layer":[
{"data":{"name":"bar"},"mark":{"type":"rect","width":5.8},"encoding":{"x":{"field":"z","type":"quantitative","scale":{"domain":[0,1],"range":[-66,198],"nice":false,"zero":false},"axis":{"values":[0,0.2,0.4,0.6,0.8,1],"tickSize":-10,"tickColor":"#111","tickWidth":1.2,"labelPadding":12,"labelBound":false,"labelFlush":false,"format":"~g","title":"|z̃|  [-]","titleX":65,"titleY":30,"titleFontSize":20}},"color":{"field":"z","type":"quantitative","legend":null,"scale":{"domain":[0,0.1,0.2,0.3,0.4,0.5,0.6,0.7,0.8,0.9,1],"range":["#3b4cc0","#5977e3","#7b9ff9","#9ebeff","#c0d4f5","#dddcdc","#f2cbb7","#f7ac8e","#ee8468","#d65244","#b40426"]}}}},
{"data":{"values":[{"a":0,"b":1}]},"mark":{"type":"rect","fill":null,"stroke":"#111","strokeWidth":1.2},"encoding":{"x":{"field":"a","type":"quantitative"},"x2":{"field":"b"}}}
]},
{"vconcat":[
{"hconcat":[
{"title":{"text":"(a)","orient":"bottom","anchor":"start","dx":134,"offset":21},"width":219,"height":255,"encoding":{"x":{"field":"e","type":"quantitative","scale":{"domain":[-1200,1200],"nice":false,"zero":false},"axis":{"values":[-750,0,750],"title":"East [m]","labelExpr":"''+datum.value"}},"y":{"field":"n","type":"quantitative","scale":{"domain":[-90,2700],"nice":false,"zero":false},"axis":{"values":[0,500,1000,1500,2000,2500],"format":"d","title":"North [m]"}}},"layer":[
{"data":{"name":"a"},"mark":{"type":"rect","width":14,"height":14},"encoding":{"color":{"field":"z","type":"quantitative","legend":null}}},
{"data":{"name":"a"},"mark":{"type":"rect","width":20,"height":20,"opacity":0.45},"encoding":{"color":{"field":"z","type":"quantitative","legend":null}}},
{"data":{"name":"mask"},"mark":{"type":"area","color":"#eeeeee"},"encoding":{"y":{"field":"u","type":"quantitative"},"y2":{"datum":2575}}},
{"data":{"name":"mask"},"mark":{"type":"area","color":"#eeeeee"},"encoding":{"y":{"field":"l","type":"quantitative"},"y2":{"datum":-25}}},
{"data":{"name":"grid"},"mark":{"type":"rule","color":"#aaaaaa","strokeDash":[1.5,3.2],"strokeWidth":1.2},"encoding":{"y":null}},
{"data":{"name":"gridn"},"mark":{"type":"rule","color":"#aaaaaa","strokeDash":[1.5,3.2],"strokeWidth":1.2},"encoding":{"x":null}},
{"data":{"name":"pathA"},"mark":{"type":"line","color":"#b22222","strokeWidth":1.6,"interpolate":"monotone"},"encoding":{"order":{"field":"i","type":"quantitative"}}},
{"data":{"name":"planeA"},"mark":{"type":"point","filled":true,"opacity":1,"color":"#b22222","size":360,"shape":"M-0.13,-0.4L0.13,-0.4L0.17,-0.2L1,-0.12L1,0.12L0.17,0.22L0.13,0.55L0.38,0.68L0.38,0.95L-0.38,0.95L-0.38,0.68L-0.13,0.55L-0.17,0.22L-1,0.12L-1,-0.12L-0.17,-0.2Z"},"encoding":{"angle":{"field":"h","type":"quantitative","scale":null}}}
]},
{"title":{"text":"(b)","orient":"bottom","anchor":"end","dx":-120,"offset":21},"width":219,"height":255,"encoding":{"x":{"field":"e","type":"quantitative","scale":{"domain":[-1200,1200],"nice":false,"zero":false},"axis":{"values":[-750,0,750],"title":"East [m]","labelExpr":"''+datum.value"}},"y":{"field":"n","type":"quantitative","scale":{"domain":[-90,2700],"nice":false,"zero":false},"axis":{"orient":"right","labelPadding":10,"titlePadding":19,"values":[0,500,1000,1500,2000,2500],"format":"d","title":"North [m]","titleAngle":270,"titleBaseline":"top"}}},"layer":[
{"data":{"name":"b"},"mark":{"type":"rect","width":14,"height":14},"encoding":{"color":{"field":"z","type":"quantitative","legend":null}}},
{"data":{"name":"b"},"mark":{"type":"rect","width":20,"height":20,"opacity":0.45},"encoding":{"color":{"field":"z","type":"quantitative","legend":null}}},
{"data":{"name":"mask"},"mark":{"type":"area","color":"#eeeeee"},"encoding":{"y":{"field":"u","type":"quantitative"},"y2":{"datum":2575}}},
{"data":{"name":"mask"},"mark":{"type":"area","color":"#eeeeee"},"encoding":{"y":{"field":"l","type":"quantitative"},"y2":{"datum":-25}}},
{"data":{"name":"grid"},"mark":{"type":"rule","color":"#aaaaaa","strokeDash":[1.5,3.2],"strokeWidth":1.2},"encoding":{"y":null}},
{"data":{"name":"gridn"},"mark":{"type":"rule","color":"#aaaaaa","strokeDash":[1.5,3.2],"strokeWidth":1.2},"encoding":{"x":null}},
{"data":{"name":"pathB"},"mark":{"type":"line","color":"#b22222","strokeWidth":1.6,"interpolate":"monotone"},"encoding":{"order":{"field":"i","type":"quantitative"}}},
{"data":{"name":"planeB"},"mark":{"type":"point","filled":true,"opacity":1,"color":"#b22222","size":360,"shape":"M-0.13,-0.4L0.13,-0.4L0.17,-0.2L1,-0.12L1,0.12L0.17,0.22L0.13,0.55L0.38,0.68L0.38,0.95L-0.38,0.95L-0.38,0.68L-0.13,0.55L-0.17,0.22L-1,0.12L-1,-0.12L-0.17,-0.2Z"},"encoding":{"angle":{"field":"h","type":"quantitative","scale":null}}}
]}
],"spacing":4.5},
{"hconcat":[
{"title":{"text":"(c)","orient":"bottom","anchor":"start","dx":134,"offset":21},"width":219,"height":255,"encoding":{"x":{"field":"e","type":"quantitative","scale":{"domain":[-1200,1200],"nice":false,"zero":false},"axis":{"values":[-750,0,750],"title":"East [m]","labelExpr":"''+datum.value"}},"y":{"field":"n","type":"quantitative","scale":{"domain":[-90,2700],"nice":false,"zero":false},"axis":{"values":[0,500,1000,1500,2000,2500],"format":"d","title":"North [m]"}}},"layer":[
{"data":{"name":"c"},"mark":{"type":"rect","width":14,"height":14},"encoding":{"color":{"field":"z","type":"quantitative","legend":null}}},
{"data":{"name":"c"},"mark":{"type":"rect","width":20,"height":20,"opacity":0.45},"encoding":{"color":{"field":"z","type":"quantitative","legend":null}}},
{"data":{"name":"mask"},"mark":{"type":"area","color":"#eeeeee"},"encoding":{"y":{"field":"u","type":"quantitative"},"y2":{"datum":2575}}},
{"data":{"name":"mask"},"mark":{"type":"area","color":"#eeeeee"},"encoding":{"y":{"field":"l","type":"quantitative"},"y2":{"datum":-25}}},
{"data":{"name":"grid"},"mark":{"type":"rule","color":"#aaaaaa","strokeDash":[1.5,3.2],"strokeWidth":1.2},"encoding":{"y":null}},
{"data":{"name":"gridn"},"mark":{"type":"rule","color":"#aaaaaa","strokeDash":[1.5,3.2],"strokeWidth":1.2},"encoding":{"x":null}},
{"data":{"name":"pathC"},"mark":{"type":"line","color":"#b22222","strokeWidth":1.6,"interpolate":"monotone"},"encoding":{"order":{"field":"i","type":"quantitative"}}},
{"data":{"name":"planeC"},"mark":{"type":"point","filled":true,"opacity":1,"color":"#b22222","size":360,"shape":"M-0.13,-0.4L0.13,-0.4L0.17,-0.2L1,-0.12L1,0.12L0.17,0.22L0.13,0.55L0.38,0.68L0.38,0.95L-0.38,0.95L-0.38,0.68L-0.13,0.55L-0.17,0.22L-1,0.12L-1,-0.12L-0.17,-0.2Z"},"encoding":{"angle":{"field":"h","type":"quantitative","scale":null}}}
]},
{"title":{"text":"(d)","orient":"bottom","anchor":"end","dx":-120,"offset":21},"width":219,"height":255,"encoding":{"x":{"field":"e","type":"quantitative","scale":{"domain":[-1200,1200],"nice":false,"zero":false},"axis":{"values":[-750,0,750],"title":"East [m]","labelExpr":"''+datum.value"}},"y":{"field":"n","type":"quantitative","scale":{"domain":[-90,2700],"nice":false,"zero":false},"axis":{"orient":"right","labelPadding":10,"titlePadding":19,"values":[0,500,1000,1500,2000,2500],"format":"d","title":"North [m]","titleAngle":270,"titleBaseline":"top"}}},"layer":[
{"data":{"name":"d"},"mark":{"type":"rect","width":14,"height":14},"encoding":{"color":{"field":"z","type":"quantitative","legend":null}}},
{"data":{"name":"d"},"mark":{"type":"rect","width":20,"height":20,"opacity":0.45},"encoding":{"color":{"field":"z","type":"quantitative","legend":null}}},
{"data":{"name":"mask"},"mark":{"type":"area","color":"#eeeeee"},"encoding":{"y":{"field":"u","type":"quantitative"},"y2":{"datum":2575}}},
{"data":{"name":"mask"},"mark":{"type":"area","color":"#eeeeee"},"encoding":{"y":{"field":"l","type":"quantitative"},"y2":{"datum":-25}}},
{"data":{"name":"grid"},"mark":{"type":"rule","color":"#aaaaaa","strokeDash":[1.5,3.2],"strokeWidth":1.2},"encoding":{"y":null}},
{"data":{"name":"gridn"},"mark":{"type":"rule","color":"#aaaaaa","strokeDash":[1.5,3.2],"strokeWidth":1.2},"encoding":{"x":null}},
{"data":{"name":"pathD"},"mark":{"type":"line","color":"#b22222","strokeWidth":1.6,"interpolate":"monotone"},"encoding":{"order":{"field":"i","type":"quantitative"}}},
{"data":{"name":"planeD"},"mark":{"type":"point","filled":true,"opacity":1,"color":"#b22222","size":360,"shape":"M-0.13,-0.4L0.13,-0.4L0.17,-0.2L1,-0.12L1,0.12L0.17,0.22L0.13,0.55L0.38,0.68L0.38,0.95L-0.38,0.95L-0.38,0.68L-0.13,0.55L-0.17,0.22L-1,0.12L-1,-0.12L-0.17,-0.2Z"},"encoding":{"angle":{"field":"h","type":"quantitative","scale":null}}}
]}
],"spacing":4.5}
],"spacing":33}
],"spacing":6}
